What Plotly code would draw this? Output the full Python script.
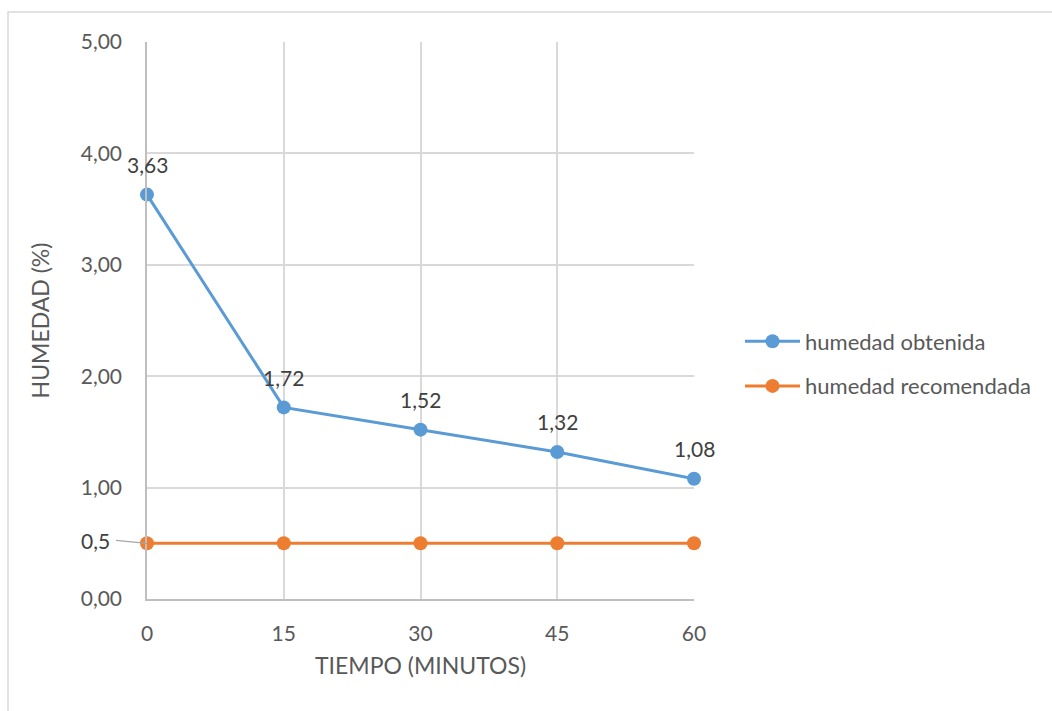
import plotly.graph_objects as go

tiempo = [0, 15, 30, 45, 60]
humedad_obtenida = [3.63, 1.72, 1.52, 1.32, 1.08]
humedad_recomendada = [0.5, 0.5, 0.5, 0.5, 0.5]
y_ticks = [0, 1, 2, 3, 4, 5]

FONT = "Lato"
TXT = "#595959"
LBL = "#404040"
L, R, T, B = 147, 694, 42, 599
W, H = 1052, 711

fig = go.Figure()
fig.add_trace(go.Scatter(
    x=tiempo, y=humedad_obtenida, mode="lines+markers",
    name="humedad obtenida", legendgroup="a",
    line=dict(color="#5b9bd5", width=3),
    marker=dict(color="#5b9bd5", size=14),
    cliponaxis=False,
))
fig.add_trace(go.Scatter(
    x=tiempo, y=humedad_recomendada, mode="lines+markers",
    name="humedad recomendada", legendgroup="b",
    line=dict(color="#ed7d31", width=3),
    marker=dict(color="#ed7d31", size=14),
    cliponaxis=False,
))

for xv, yv in zip(tiempo, humedad_obtenida):
    fig.add_annotation(
        x=xv, y=yv, xref="x", yref="y",
        text=f"{yv:.2f}".replace(".", ","),
        showarrow=False, yshift=30, yanchor="middle",
        font=dict(family=FONT, size=21, color=LBL),
    )

fig.add_annotation(
    x=tiempo[0], y=humedad_recomendada[0], xref="x", yref="y",
    text=str(humedad_recomendada[0]).replace(".", ","),
    showarrow=True, arrowhead=0, arrowwidth=1.2, arrowcolor="#a6a6a6",
    ax=-31, ay=-3, standoff=0, borderpad=5,
    font=dict(family=FONT, size=21, color=LBL),
    xanchor="right",
)

pw, ph = R - L, B - T
fig.add_shape(type="rect", xref="paper", yref="paper",
              x0=(8 - L) / pw, x1=(W + 20 - L) / pw,
              y0=(B - (H + 20)) / ph, y1=(B - 12) / ph,
              line=dict(color="#d9d9d9", width=1.5), fillcolor="rgba(0,0,0,0)",
              layer="below")

fig.update_layout(
    width=W, height=H,
    margin=dict(l=L, r=W - R, t=T, b=H - B),
    paper_bgcolor="white", plot_bgcolor="white",
    separators=",.",
    font=dict(family=FONT, size=18, color=TXT),
    showlegend=True,
    legend=dict(x=(740 - L) / pw, y=(B - 364) / ph, xanchor="left", yanchor="middle",
                font=dict(family=FONT, size=22, color=TXT),
                tracegroupgap=13, itemwidth=55),
    xaxis=dict(range=[0, 60], tickvals=tiempo, showgrid=True, gridcolor="#d9d9d9",
               gridwidth=1.5, showline=True, linecolor="#bfbfbf", linewidth=1.5,
               zeroline=False, ticks="", ticklabelstandoff=15,
               tickfont=dict(family=FONT, size=21, color=TXT),
               title=dict(text="TIEMPO (MINUTOS)", font=dict(family=FONT, size=23, color=TXT),
                          standoff=14)),
    yaxis=dict(range=[0, 5], tickvals=y_ticks, tickformat=".2f", showgrid=True,
               gridcolor="#d9d9d9", gridwidth=1.5, showline=True, linecolor="#bfbfbf",
               linewidth=1.5, zeroline=False, ticks="", ticklabelstandoff=19,
               tickfont=dict(family=FONT, size=21, color=TXT),
               title=dict(text="HUMEDAD (%)", font=dict(family=FONT, size=23, color=TXT),
                          standoff=25)),
)

fig.write_html("out.html")
